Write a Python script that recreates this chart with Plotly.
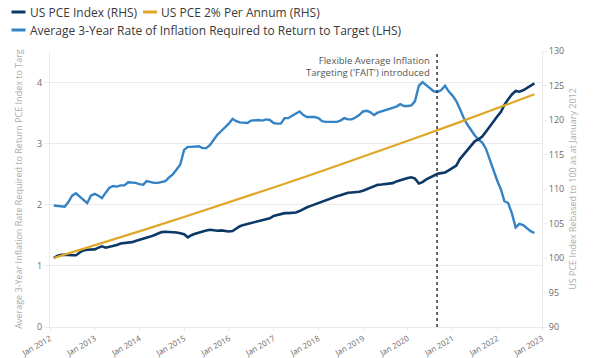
import pandas as pd
import plotly.graph_objects as go

# ---- data ----
months = pd.date_range("2012-01-31", periods=130, freq="ME")

pce_index = [
    100.0, 100.3, 100.45, 100.5, 100.45, 100.4, 100.4, 100.8, 101.1, 101.2, 101.2, 101.25,
    101.5, 101.7, 101.5, 101.6, 101.75, 101.9, 102.1, 102.15, 102.2, 102.3, 102.45, 102.6,
    102.8, 102.95, 103.1, 103.3, 103.55, 103.75, 103.8, 103.8, 103.8, 103.7, 103.6, 103.45,
    103.0, 103.3, 103.5, 103.7, 103.9, 104.0, 104.1, 104.0, 103.95, 104.0, 103.9, 103.85,
    103.9, 104.3, 104.6, 104.8, 104.95, 105.05, 105.2, 105.3, 105.45, 105.6, 105.75, 106.1,
    106.25, 106.3, 106.5, 106.5, 106.5, 106.6, 106.8, 107.1, 107.35, 107.55, 107.75, 108.0,
    108.2, 108.4, 108.6, 108.85, 108.95, 109.1, 109.3, 109.45, 109.5, 109.5, 109.6, 109.75,
    110.0, 110.2, 110.4, 110.6, 110.65, 110.7, 110.75, 110.85, 111.1, 111.3, 111.5, 111.6,
    111.7, 111.5, 110.8, 111.0, 111.4, 111.7, 112.0, 112.2, 112.3, 112.4, 112.7, 113.0,
    113.4, 114.3, 115.0, 115.6, 116.3, 116.9, 117.2, 117.6, 118.3, 119.1, 119.8, 120.5,
    121.2, 122.2, 123.0, 123.7, 124.2, 124.1, 124.3, 124.6, 125.0, 125.3,
]

required_rate = [
    1.99, 1.98, 1.97, 1.97, 2.05, 2.15, 2.19, 2.14, 2.08, 2.03, 2.15, 2.18,
    2.15, 2.11, 2.20, 2.28, 2.31, 2.30, 2.32, 2.32, 2.37, 2.37, 2.36, 2.34,
    2.33, 2.39, 2.37, 2.36, 2.36, 2.37, 2.39, 2.45, 2.50, 2.58, 2.66, 2.90,
    2.95, 2.95, 2.95, 2.96, 2.93, 2.93, 2.98, 3.06, 3.15, 3.21, 3.27, 3.33,
    3.41, 3.37, 3.35, 3.34, 3.34, 3.38, 3.39, 3.39, 3.38, 3.40, 3.39, 3.34,
    3.33, 3.33, 3.42, 3.42, 3.46, 3.50, 3.53, 3.47, 3.44, 3.44, 3.44, 3.42,
    3.37, 3.36, 3.36, 3.35, 3.36, 3.38, 3.42, 3.40, 3.40, 3.43, 3.47, 3.53,
    3.54, 3.52, 3.47, 3.51, 3.53, 3.55, 3.57, 3.60, 3.61, 3.65, 3.62, 3.62,
    3.63, 3.70, 3.95, 4.01, 3.96, 3.90, 3.86, 3.85, 3.88, 3.95, 3.86, 3.79,
    3.70, 3.58, 3.43, 3.32, 3.22, 3.14, 3.07, 3.02, 2.92, 2.74, 2.55, 2.40,
    2.25, 2.06, 2.03, 1.86, 1.63, 1.69, 1.67, 1.62, 1.57, 1.54,
]

target_dates = ["2012-01-31", "2013-01-31", "2014-01-31", "2015-01-31", "2016-01-31",
                "2017-01-31", "2018-01-31", "2019-01-31", "2020-01-31", "2021-01-31",
                "2022-01-31", "2022-10-31"]
target_path = [100.0, 102.0, 104.04, 106.12, 108.24, 110.41, 112.62, 114.87, 117.17,
               119.51, 121.90, 123.73]

series_names = ["US PCE Index (RHS)", "US PCE 2% Per Annum (RHS)",
                "Average 3-Year Rate of Inflation Required to Return to Target (LHS)"]

fait_date = "2020-08-27"
fait_text = "Flexible Average Inflation<br>Targeting ('FAIT') introduced"
x_ticks = [f"{y}-01-01" for y in range(2012, 2024)]
left_ticks = [0, 1, 2, 3, 4]
right_ticks = [90, 95, 100, 105, 110, 115, 120, 125, 130]

# ---- layout geometry ----
W, H = 600, 358
ML, MR, MT, MB = 50, 58, 51, 31
PW, PH = W - ML - MR, H - MT - MB


def px(x):
    return (x - ML) / PW


def py(y):
    return (H - MB - y) / PH


NAVY = "#0c3866"
GOLD = "#dea725"
LIGHT = "#3483c5"
GRID = "#ebebeb"
TICK = "#6a6a6a"
TITLE = "#ababab"
FONT = "Open Sans"
colors = [NAVY, GOLD, LIGHT]

fig = go.Figure()
fig.add_trace(go.Scatter(x=months, y=pce_index, name=series_names[0],
                         mode="lines", line=dict(color=NAVY, width=2.6), yaxis="y2"))
fig.add_trace(go.Scatter(x=target_dates, y=target_path, name=series_names[1],
                         mode="lines", line=dict(color=GOLD, width=2.2), yaxis="y2"))
fig.add_trace(go.Scatter(x=months, y=required_rate, name=series_names[2],
                         mode="lines", line=dict(color=LIGHT, width=2.4), yaxis="y"))

# FAIT marker
fig.add_shape(type="line", xref="x", yref="paper", x0=fait_date, x1=fait_date,
              y0=0, y1=1.0, line=dict(color="#333333", width=1.5, dash="dot"))
fig.add_annotation(x=fait_date, xref="x", y=py(52), yref="paper", xanchor="right",
                   yanchor="top", xshift=-5, align="right", showarrow=False,
                   text=fait_text, font=dict(family=FONT, size=9.5, color="#555555"))

# legend (drawn as short swatches + text, like the reference)
legend_items = [(11.5, 12, 0), (143, 12, 1), (11.5, 30, 2)]
for x0, yc, i in legend_items:
    fig.add_shape(type="line", xref="paper", yref="paper", x0=px(x0), x1=px(x0 + 14),
                  y0=py(yc), y1=py(yc), line=dict(color=colors[i], width=3))
    fig.add_annotation(x=px(x0 + 16), y=py(yc), xref="paper", yref="paper",
                       xanchor="left", yanchor="middle", showarrow=False,
                       text=series_names[i], font=dict(family=FONT, size=12, color="#3a3a3a"))

fig.update_layout(
    width=W, height=H,
    margin=dict(l=ML, r=MR, t=MT, b=MB, autoexpand=False),
    paper_bgcolor="white", plot_bgcolor="white",
    font=dict(family=FONT, color=TICK),
    showlegend=False,
    xaxis=dict(type="date", range=["2012-01-01", "2023-01-01"], tickvals=x_ticks,
               tickformat="%b %Y", tickangle=-30, tickfont=dict(size=8, color=TICK),
               showgrid=False, showline=True, linecolor=GRID, ticks="outside",
               ticklen=3, tickcolor=GRID, zeroline=False),
    yaxis=dict(range=[0, 4.52], tickvals=left_ticks, tickfont=dict(size=9, color=TICK),
               showgrid=True, gridcolor=GRID, zeroline=False, showline=True, linecolor=GRID,
               ticks="outside", ticklen=5, tickcolor=GRID,
               title=dict(text="Average 3-Year Inflation Rate Required to Return PCE Index to Targ",
                          font=dict(size=9, color=TITLE), standoff=12)),
    yaxis2=dict(range=[90, 130], tickvals=right_ticks, overlaying="y", side="right",
                tickfont=dict(size=9, color=TICK), showgrid=False, zeroline=False,
                showline=True, linecolor=GRID, ticks="outside", ticklen=4, tickcolor=GRID,
                title=dict(text="US PCE Index Rebased to 100 as at January 2012",
                           font=dict(size=9, color=TITLE), standoff=6)),
)

# remove the browser's default 8px page margin so the chart sits at the window origin
fig.write_html("out.html", config={"displayModeBar": False},
               post_script="document.body.style.margin='0';")
